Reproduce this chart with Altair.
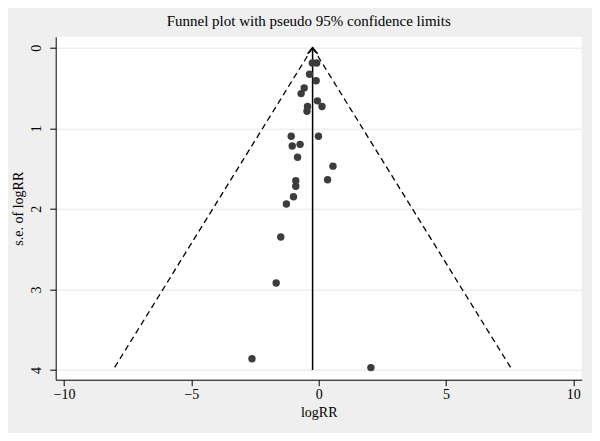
import altair as alt
import pandas as pd

# Study estimates
logrr = [-0.25, -0.08, -0.36, -0.10, -0.57, -0.69, -0.05, 0.13, -0.44, -0.46,
         -1.08, -0.01, -1.04, -0.73, -0.83, 0.56, 0.35, -0.90, -0.90, -0.99,
         -1.27, -1.49, -1.67, -2.62, 2.05]
se_logrr = [0.19, 0.19, 0.33, 0.41, 0.50, 0.57, 0.66, 0.73, 0.73, 0.79,
            1.10, 1.10, 1.22, 1.20, 1.36, 1.47, 1.64, 1.65, 1.72, 1.85,
            1.94, 2.35, 2.92, 3.86, 3.97]

# Pooled estimate and pseudo 95% limits (end points)
pooled = [-0.24]
limit_bottom_x = [-8.08, 7.60]
se_max = [4.0]

x_ticks = [-10, -5, 0, 5, 10]
y_ticks = [0, 1, 2, 3, 4]
x_domain = [-10.33, 10.33]
y_domain = [-0.136, 4.12]

FONT = "Liberation Serif"
W, H = 526, 343

pts = pd.DataFrame({"logRR": logrr, "se": se_logrr})
lims = pd.DataFrame({
    "x": [pooled[0], pooled[0]],
    "y": [0.0, 0.0],
    "x2": limit_bottom_x,
    "y2": [se_max[0], se_max[0]],
})
pool = pd.DataFrame({"x": pooled, "y": [0.0], "y2": se_max})

xs = alt.Scale(domain=x_domain, nice=False, zero=False)
ys = alt.Scale(domain=y_domain, nice=False, zero=False, reverse=True)

x_axis = alt.Axis(values=x_ticks, title="logRR", grid=False, tickSize=6,
                  labelPadding=2, titleY=33, titleBaseline="middle",
                  titleX=W / 2, format="d")
y_axis = alt.Axis(values=y_ticks, title="s.e. of logRR", grid=True, tickSize=6,
                  labelAngle=270, labelPadding=13, labelBaseline="middle",
                  labelAlign="center", titleAngle=270, titleX=-37,
                  titleY=H / 2, titleBaseline="middle", titleAlign="center",
                  format="d")

points = alt.Chart(pts).mark_circle(size=55, color="#3c3c3c", opacity=1).encode(
    x=alt.X("logRR:Q", scale=xs, axis=x_axis),
    y=alt.Y("se:Q", scale=ys, axis=y_axis),
)

limits = alt.Chart(lims).mark_rule(color="black", strokeWidth=1.3,
                                   strokeDash=[6, 4]).encode(
    x=alt.X("x:Q", scale=xs), y=alt.Y("y:Q", scale=ys),
    x2="x2:Q", y2="y2:Q",
)

pool_line = alt.Chart(pool).mark_rule(color="black", strokeWidth=1.5).encode(
    x=alt.X("x:Q", scale=xs), y=alt.Y("y:Q", scale=ys), y2="y2:Q",
)

arrow = alt.Chart(pool).mark_point(
    shape="M-1,1.2L0,0L1,1.2", filled=False, color="black", strokeWidth=1.5,
    size=100, opacity=1,
).encode(x=alt.X("x:Q", scale=xs), y=alt.Y("y:Q", scale=ys))

chart = alt.layer(limits, pool_line, arrow, points).properties(
    width=W, height=H,
    title=alt.TitleParams("Funnel plot with pseudo 95% confidence limits",
                          font=FONT, fontSize=15, fontWeight="normal",
                          anchor="middle", color="black", offset=8, dx=-10),
    autosize=alt.AutoSizeParams(type="none"),
    padding={"left": 47.7, "top": 28.7, "right": 10.3, "bottom": 53.3},
).configure(
    background="#efefef",
).configure_view(
    fill="white", strokeWidth=0,
).configure_axis(
    labelFont=FONT, titleFont=FONT, labelFontSize=14, titleFontSize=14,
    labelColor="black", titleColor="black", titleFontWeight="normal",
    domainColor="black", domainWidth=1, tickColor="black", tickWidth=1,
    gridColor="#e6e6e6", gridWidth=1,
)

chart.save("out.html", embed_options={"renderer": "svg", "actions": False})
